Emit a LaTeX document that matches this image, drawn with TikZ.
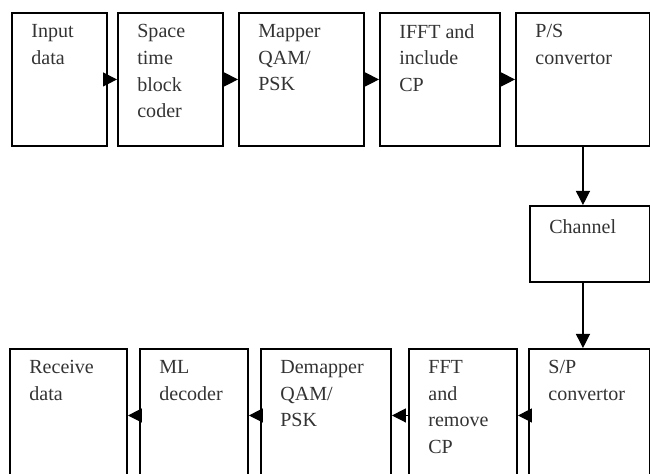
\documentclass[tikz,border=0pt]{standalone}
\usepackage{fontspec}
\setmainfont{Liberation Serif}
\usetikzlibrary{arrows.meta}
\tikzset{
 blk/.style={draw,line width=1.1pt,anchor=north west,inner sep=0pt,minimum height=2.66cm},
 txt/.style={anchor=north west,align=left,inner xsep=0.4cm,inner ysep=0.24cm,
  execute at begin node=\rule{0pt}{9pt},text=black!80,font=\fontsize{11.4}{15.2}\selectfont},
 arr/.style={-{Triangle[length=0.28cm,width=0.28cm]},line width=0.7pt}
}
\begin{document}
\begin{tikzpicture}
 \clip (0,0) rectangle (13,9.48); %画像の範囲
 \node[blk,minimum width=1.90cm,label={[txt]north west:Input\\data}] (in) at (0.22,9.24) {}; %入力
 \node[blk,minimum width=2.10cm,label={[txt]north west:Space\\time\\block\\coder}] (stbc) at (2.34,9.24) {}; %時空間符号器
 \node[blk,minimum width=2.50cm,label={[txt]north west:Mapper\\QAM/\\PSK}] (map) at (4.76,9.24) {}; %マッパ
 \node[blk,minimum width=2.40cm,label={[txt]north west:IFFT and\\include\\CP}] (ifft) at (7.58,9.24) {}; %IFFT
 \node[blk,minimum width=2.68cm,label={[txt]north west:P/S\\convertor}] (ps) at (10.30,9.24) {}; %P/S
 \node[blk,minimum width=2.40cm,minimum height=1.52cm,label={[txt]north west:Channel}] (ch) at (10.58,5.38) {}; %通信路
 \node[blk,minimum width=2.42cm,label={[txt]north west:S/P\\convertor}] (sp) at (10.56,2.52) {}; %S/P
 \node[blk,minimum width=2.16cm,label={[txt]north west:FFT\\and\\remove\\CP}] (fft) at (8.16,2.52) {}; %FFT
 \node[blk,minimum width=2.60cm,label={[txt]north west:Demapper\\QAM/\\PSK}] (demap) at (5.20,2.52) {}; %デマッパ
 \node[blk,minimum width=2.16cm,label={[txt]north west:ML\\decoder}] (ml) at (2.78,2.52) {}; %ML復号器
 \node[blk,minimum width=2.34cm,label={[txt]north west:Receive\\data}] (out) at (0.18,2.52) {}; %出力
 \draw[arr] (in)--(stbc); \draw[arr] (stbc)--(map); \draw[arr] (map)--(ifft); \draw[arr] (ifft)--(ps); %送信側
 \draw[arr] (ps.south)--(ps.south |- ch.north); %P/S→通信路
 \draw[arr] (ch.south -| ps.south)--(sp.north -| ps.south); %通信路→S/P
 \draw[arr] (sp)--(fft); \draw[arr] (fft)--(demap); \draw[arr] (demap)--(ml); \draw[arr] (ml)--(out); %受信側
\end{tikzpicture}
\end{document}
